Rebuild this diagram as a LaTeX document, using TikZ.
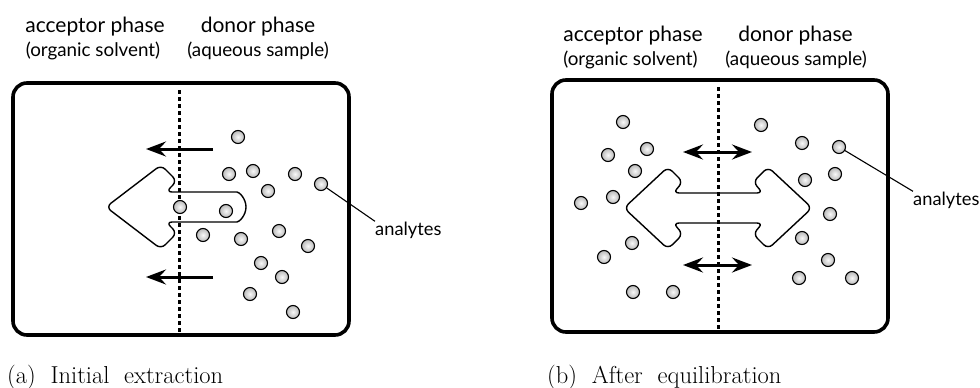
\documentclass[tikz,border=0pt]{standalone}
\usepackage{fontspec}
\setsansfont{Lato}
\usepackage{tikz}
\usetikzlibrary{arrows.meta,positioning}

\begin{document}
\begin{tikzpicture}[x=1pt,y=-1pt]
\tikzstyle{vessel}=[draw, line width=3.6pt, rounded corners=14pt]
\tikzstyle{interface}=[line width=3pt, dash pattern=on 3.5pt off 3.5pt]
\tikzstyle{analyte}=[circle, draw, line width=1.1pt, inner sep=0pt, minimum size=13pt, inner color=gray!5, outer color=gray!55]
\tikzstyle{carrier}=[draw, line width=1.4pt, rounded corners=6pt]
\tikzstyle{flux}=[line width=3pt, -{Stealth[length=20pt, width=15pt, inset=7pt]}]
\tikzstyle{exchange}=[line width=3pt, {Stealth[length=20pt, width=15pt, inset=7pt]}-{Stealth[length=20pt, width=15pt, inset=7pt]}]
\tikzstyle{phase}=[font=\sffamily\fontsize{21}{23}\selectfont, inner sep=0pt, anchor=base]
\tikzstyle{medium}=[font=\sffamily\fontsize{18.8}{21}\selectfont, inner sep=0pt, anchor=base]
\tikzstyle{tag}=[font=\sffamily\fontsize{18.3}{20}\selectfont, inner sep=0pt, anchor=base west]
\tikzstyle{pointer}=[line width=1.1pt]
\tikzstyle{caption}=[font=\rmfamily\fontsize{24.5}{27}\selectfont, inner sep=0pt, anchor=base west]

\useasboundingbox (0,0) rectangle (980,388);

% ---- (a) initial extraction ----
\node[phase]  (accA) at (95,32) {acceptor phase};
\node[medium] (orgA) at (93,56)   {(organic solvent)};
\node[phase]  (donA) at (258,32) {donor phase};
\node[medium] (aquA) at (258,56)  {(aqueous sample)};

\draw[vessel] (13,83) rectangle (349,335);
\draw[interface] (179,90) -- (179,333);

\coordinate (fluxA1) at (213,149);
\coordinate (fluxA2) at (213,277);
\draw[flux] (fluxA1) -- (146,149);
\draw[flux] (fluxA2) -- (146,277);

% carrier pulling analytes across
\draw[carrier] (166,192) -- (231,192) arc[start angle=-90, end angle=90, radius=15]
  -- (166,222) -- (177,233) -- (161,249) -- ([rounded corners=9pt]106,207) -- (161,165) -- (177,181) -- cycle;

\foreach \x/\y [count=\i] in {238/137, 229/174, 253/171, 295/174, 321/184, 268/191,
  180/207, 226/211, 203/235, 241/239, 279/231, 308/246, 261/263, 282/277, 250/294, 293/312}
  \node[analyte] (pa\i) at (\x,\y) {};

\node[tag] (labA) at (375,235) {analytes};
\draw[pointer] (pa5) -- (labA.north west);

\node[caption] (capA) at (7,383) {(a)~~Initial~~extraction};

% ---- (b) after equilibration ----
\node[phase]  (accB) at (633,41.5) {acceptor phase};
\node[medium] (orgB) at (630.5,65.5) {(organic solvent)};
\node[phase]  (donB) at (795.5,41.5) {donor phase};
\node[medium] (aquB) at (796,65.5) {(aqueous sample)};

\draw[vessel] (552,80) rectangle (888,332);
\draw[interface] (718,87) -- (718,330);

\coordinate (exB1) at (683,152);
\coordinate (exB2) at (683,265);
\draw[exchange] (exB1) -- (752,152);
\draw[exchange] (exB2) -- (752,265);

% carrier shared by both phases
\draw[carrier] (673,193) -- (763,193) -- (753,182) -- (768,167) -- (812,208) -- (768,249)
  -- (753,234) -- (763,223) -- (673,223) -- (683,234) -- (668,249) -- (624,208)
  -- (668,167) -- (683,182) -- cycle;

\foreach \x/\y [count=\i] in {623/122, 608/155, 647/149, 635/171, 581/203, 613/197, 632/243,
  604/257, 633/292, 673/292, 761/125, 802/143, 839/147, 805/180, 835/174, 830/214,
  802/238, 828/260, 799/278, 852/278}
  \node[analyte] (pb\i) at (\x,\y) {};

\node[tag] (labB) at (913,205) {analytes};
\draw[pointer] (pb13) -- (labB.north west);

\node[caption] (capB) at (547,383) {(b)~~After~~equilibration};

\end{tikzpicture}
\end{document}
